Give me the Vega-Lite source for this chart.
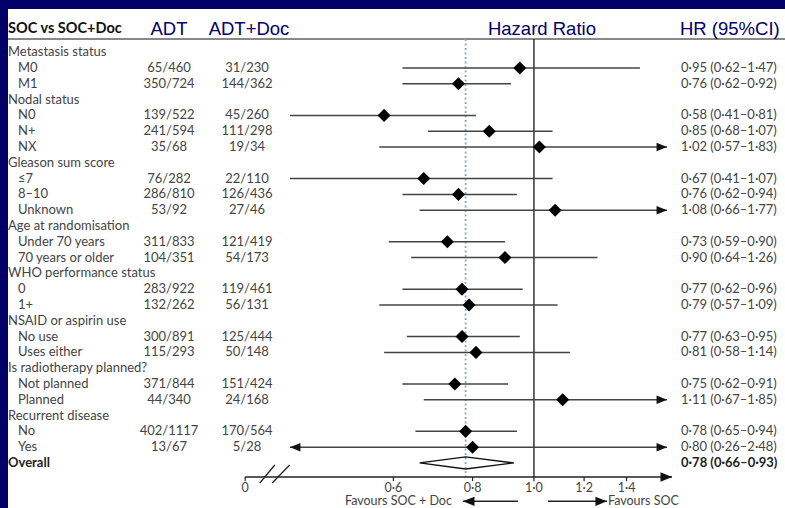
{
  "$schema": "https://vega.github.io/schema/vega-lite/v6.json",
  "background": "white",
  "padding": 0,
  "spacing": 0,
  "bounds": "flush",
  "config": {
    "view": {"stroke": null},
    "text": {"font": "Lato", "fontSize": 13, "color": "#444"}
  },
  "datasets": {
    "headers": [
      {"col": "sub", "text": "SOC vs SOC+Doc"},
      {"col": "adt", "text": "ADT"},
      {"col": "adtdoc", "text": "ADT+Doc"},
      {"col": "hr", "text": "Hazard Ratio"},
      {"col": "ci", "text": "HR (95%CI)"}
    ],
    "rows": [
      {"row": 0, "label": "Metastasis status", "kind": "group"},
      {"row": 1, "label": "M0", "kind": "item", "adt": "65/460", "adtdoc": "31/230", "hr": 0.95, "lo": 0.62, "hi": 1.47, "ci": "0·95 (0·62–1·47)"},
      {"row": 2, "label": "M1", "kind": "item", "adt": "350/724", "adtdoc": "144/362", "hr": 0.76, "lo": 0.62, "hi": 0.92, "ci": "0·76 (0·62–0·92)"},
      {"row": 3, "label": "Nodal status", "kind": "group"},
      {"row": 4, "label": "N0", "kind": "item", "adt": "139/522", "adtdoc": "45/260", "hr": 0.58, "lo": 0.41, "hi": 0.81, "ci": "0·58 (0·41–0·81)"},
      {"row": 5, "label": "N+", "kind": "item", "adt": "241/594", "adtdoc": "111/298", "hr": 0.85, "lo": 0.68, "hi": 1.07, "ci": "0·85 (0·68–1·07)"},
      {"row": 6, "label": "NX", "kind": "item", "adt": "35/68", "adtdoc": "19/34", "hr": 1.02, "lo": 0.57, "hi": 1.83, "ci": "1·02 (0·57–1·83)"},
      {"row": 7, "label": "Gleason sum score", "kind": "group"},
      {"row": 8, "label": "≤7", "kind": "item", "adt": "76/282", "adtdoc": "22/110", "hr": 0.67, "lo": 0.41, "hi": 1.07, "ci": "0·67 (0·41–1·07)"},
      {"row": 9, "label": "8–10", "kind": "item", "adt": "286/810", "adtdoc": "126/436", "hr": 0.76, "lo": 0.62, "hi": 0.94, "ci": "0·76 (0·62–0·94)"},
      {"row": 10, "label": "Unknown", "kind": "item", "adt": "53/92", "adtdoc": "27/46", "hr": 1.08, "lo": 0.66, "hi": 1.77, "ci": "1·08 (0·66–1·77)"},
      {"row": 11, "label": "Age at randomisation", "kind": "group"},
      {"row": 12, "label": "Under 70 years", "kind": "item", "adt": "311/833", "adtdoc": "121/419", "hr": 0.73, "lo": 0.59, "hi": 0.90, "ci": "0·73 (0·59–0·90)"},
      {"row": 13, "label": "70 years or older", "kind": "item", "adt": "104/351", "adtdoc": "54/173", "hr": 0.90, "lo": 0.64, "hi": 1.26, "ci": "0·90 (0·64–1·26)"},
      {"row": 14, "label": "WHO performance status", "kind": "group"},
      {"row": 15, "label": "0", "kind": "item", "adt": "283/922", "adtdoc": "119/461", "hr": 0.77, "lo": 0.62, "hi": 0.96, "ci": "0·77 (0·62–0·96)"},
      {"row": 16, "label": "1+", "kind": "item", "adt": "132/262", "adtdoc": "56/131", "hr": 0.79, "lo": 0.57, "hi": 1.09, "ci": "0·79 (0·57–1·09)"},
      {"row": 17, "label": "NSAID or aspirin use", "kind": "group"},
      {"row": 18, "label": "No use", "kind": "item", "adt": "300/891", "adtdoc": "125/444", "hr": 0.77, "lo": 0.63, "hi": 0.95, "ci": "0·77 (0·63–0·95)"},
      {"row": 19, "label": "Uses either", "kind": "item", "adt": "115/293", "adtdoc": "50/148", "hr": 0.81, "lo": 0.58, "hi": 1.14, "ci": "0·81 (0·58–1·14)"},
      {"row": 20, "label": "Is radiotherapy planned?", "kind": "group"},
      {"row": 21, "label": "Not planned", "kind": "item", "adt": "371/844", "adtdoc": "151/424", "hr": 0.75, "lo": 0.62, "hi": 0.91, "ci": "0·75 (0·62–0·91)"},
      {"row": 22, "label": "Planned", "kind": "item", "adt": "44/340", "adtdoc": "24/168", "hr": 1.11, "lo": 0.67, "hi": 1.85, "ci": "1·11 (0·67–1·85)"},
      {"row": 23, "label": "Recurrent disease", "kind": "group"},
      {"row": 24, "label": "No", "kind": "item", "adt": "402/1117", "adtdoc": "170/564", "hr": 0.78, "lo": 0.65, "hi": 0.94, "ci": "0·78 (0·65–0·94)"},
      {"row": 25, "label": "Yes", "kind": "item", "adt": "13/67", "adtdoc": "5/28", "hr": 0.80, "lo": 0.26, "hi": 2.48, "ci": "0·80 (0·26–2·48)"},
      {"row": 26, "label": "Overall", "kind": "overall", "hr": 0.78, "lo": 0.66, "hi": 0.93, "ci": "0·78 (0·66–0·93)"}
    ],
    "ticks": [
      {"v": 0.35, "t": "0"},
      {"v": 0.6, "t": "0·6"},
      {"v": 0.8, "t": "0·8"},
      {"v": 1.0, "t": "1·0"},
      {"v": 1.2, "t": "1·2"},
      {"v": 1.4, "t": "1·4"}
    ],
    "overall_diamond": [
      {"o": 0, "hr": 0.66, "row": 26},
      {"o": 1, "hr": 0.78, "row": 25.62},
      {"o": 2, "hr": 0.93, "row": 26},
      {"o": 3, "hr": 0.78, "row": 26.38},
      {"o": 4, "hr": 0.66, "row": 26}
    ],
    "favours": [
      {"side": "doc", "label": "Favours SOC + Doc", "from": 0.9435, "to": 0.7725},
      {"side": "soc", "label": "Favours SOC", "from": 1.052, "to": 1.304}
    ],
    "axisbreak": [
      {"x1": 0.3692, "x2": 0.3898, "y1": 27.27, "y2": 26.13},
      {"x1": 0.3861, "x2": 0.4115, "y1": 27.27, "y2": 26.13}
    ]
  },
  "vconcat": [
    {"width": 785, "height": 9, "view": {"fill": "#000066", "stroke": null},
     "data": {"values": [{}]}, "mark": {"type": "rect", "color": "#000066"}, "encoding": {}},
    {
      "spacing": 0,
      "bounds": "flush",
      "hconcat": [
        {"width": 8, "height": 499, "view": {"fill": "#000066", "stroke": null},
         "data": {"values": [{}]}, "mark": {"type": "rect", "color": "#000066"}, "encoding": {}},
        {
          "width": 122, "height": 499,
          "layer": [
            {"data": {"values": [{}]}, "mark": {"type": "rule", "color": "#888", "strokeWidth": 2},
             "encoding": {"y": {"datum": -0.84, "type": "quantitative", "scale": {"domain": [-2.734, 28.85], "reverse": true, "nice": false, "zero": false}, "axis": null}}},
            {"data": {"name": "headers"}, "transform": [{"filter": "datum.col == 'sub'"}],
             "mark": {"type": "text", "align": "left", "baseline": "middle", "fontWeight": "bold", "fontSize": 14.5, "color": "#111"},
             "encoding": {"x": {"value": 0}, "y": {"datum": -1.47, "type": "quantitative", "scale": {"domain": [-2.734, 28.85], "reverse": true, "nice": false, "zero": false}, "axis": null}, "text": {"field": "text"}}},
            {"data": {"name": "rows"}, "transform": [{"filter": "datum.kind == 'group'"}],
             "mark": {"type": "text", "align": "left", "baseline": "middle"},
             "encoding": {"x": {"value": 0}, "y": {"field": "row", "type": "quantitative", "scale": {"domain": [-2.734, 28.85], "reverse": true, "nice": false, "zero": false}, "axis": null}, "text": {"field": "label"}}},
            {"data": {"name": "rows"}, "transform": [{"filter": "datum.kind == 'item'"}],
             "mark": {"type": "text", "align": "left", "baseline": "middle", "dx": 10},
             "encoding": {"x": {"value": 0}, "y": {"field": "row", "type": "quantitative", "scale": {"domain": [-2.734, 28.85], "reverse": true, "nice": false, "zero": false}, "axis": null}, "text": {"field": "label"}}},
            {"data": {"name": "rows"}, "transform": [{"filter": "datum.kind == 'overall'"}],
             "mark": {"type": "text", "align": "left", "baseline": "middle", "fontWeight": "bold", "color": "#222"},
             "encoding": {"x": {"value": 0}, "y": {"field": "row", "type": "quantitative", "scale": {"domain": [-2.734, 28.85], "reverse": true, "nice": false, "zero": false}, "axis": null}, "text": {"field": "label"}}}
          ]
        },
        {
          "width": 78, "height": 499,
          "layer": [
            {"data": {"values": [{}]}, "mark": {"type": "rule", "color": "#888", "strokeWidth": 2},
             "encoding": {"y": {"datum": -0.84, "type": "quantitative", "scale": {"domain": [-2.734, 28.85], "reverse": true, "nice": false, "zero": false}, "axis": null}}},
            {"data": {"name": "headers"}, "transform": [{"filter": "datum.col == 'adt'"}],
             "mark": {"type": "text", "align": "center", "baseline": "middle", "font": "Liberation Sans", "fontSize": 18.5, "color": "#000066"},
             "encoding": {"y": {"datum": -1.47, "type": "quantitative", "scale": {"domain": [-2.734, 28.85], "reverse": true, "nice": false, "zero": false}, "axis": null}, "text": {"field": "text"}}},
            {"data": {"name": "rows"}, "transform": [{"filter": "datum.kind == 'item'"}],
             "mark": {"type": "text", "align": "center", "baseline": "middle"},
             "encoding": {"y": {"field": "row", "type": "quantitative", "scale": {"domain": [-2.734, 28.85], "reverse": true, "nice": false, "zero": false}, "axis": null}, "text": {"field": "adt"}}}
          ]
        },
        {
          "width": 82, "height": 499,
          "layer": [
            {"data": {"values": [{}]}, "mark": {"type": "rule", "color": "#888", "strokeWidth": 2},
             "encoding": {"y": {"datum": -0.84, "type": "quantitative", "scale": {"domain": [-2.734, 28.85], "reverse": true, "nice": false, "zero": false}, "axis": null}}},
            {"data": {"name": "headers"}, "transform": [{"filter": "datum.col == 'adtdoc'"}],
             "mark": {"type": "text", "align": "center", "baseline": "middle", "font": "Liberation Sans", "fontSize": 18.5, "color": "#000066"},
             "encoding": {"y": {"datum": -1.47, "type": "quantitative", "scale": {"domain": [-2.734, 28.85], "reverse": true, "nice": false, "zero": false}, "axis": null}, "text": {"field": "text"}}},
            {"data": {"name": "rows"}, "transform": [{"filter": "datum.kind == 'item'"}],
             "mark": {"type": "text", "align": "center", "baseline": "middle", "dx": -2},
             "encoding": {"y": {"field": "row", "type": "quantitative", "scale": {"domain": [-2.734, 28.85], "reverse": true, "nice": false, "zero": false}, "axis": null}, "text": {"field": "adtdoc"}}}
          ]
        },
        {
          "width": 377, "height": 499,
          "resolve": {"scale": {"x": "independent"}},
          "layer": [
            {
              "layer": [
                {"data": {"values": [{}]}, "mark": {"type": "rule", "color": "#888", "strokeWidth": 2},
                 "encoding": {"y": {"datum": -0.84, "type": "quantitative", "scale": {"domain": [-2.734, 28.85], "reverse": true, "nice": false, "zero": false}, "axis": null}}},
                {"data": {"values": [{}]}, "mark": {"type": "rule", "color": "#8fa8ba", "strokeWidth": 1.8, "strokeDash": [2, 2.5]},
                 "encoding": {"x": {"datum": 0.78, "type": "quantitative", "scale": {"type": "log", "domain": [0.412, 1.622], "nice": false}, "axis": null},
                              "y": {"datum": -0.84, "type": "quantitative", "scale": {"domain": [-2.734, 28.85], "reverse": true, "nice": false, "zero": false}, "axis": null},
                              "y2": {"datum": 26.89}}},
                {"data": {"values": [{}]}, "mark": {"type": "rule", "color": "#333", "strokeWidth": 1.5},
                 "encoding": {"x": {"datum": 1.0, "type": "quantitative", "scale": {"type": "log", "domain": [0.412, 1.622], "nice": false}, "axis": null},
                              "y": {"datum": -0.84, "type": "quantitative", "scale": {"domain": [-2.734, 28.85], "reverse": true, "nice": false, "zero": false}, "axis": null},
                              "y2": {"datum": 26.89}}},
                {"data": {"values": [{}]}, "mark": {"type": "rule", "color": "#222", "strokeWidth": 1.5},
                 "encoding": {"x": {"datum": 0.35, "type": "quantitative", "scale": {"type": "log", "domain": [0.412, 1.622], "nice": false}, "axis": null},
                              "x2": {"datum": 1.652},
                              "y": {"datum": 26.89, "type": "quantitative", "scale": {"domain": [-2.734, 28.85], "reverse": true, "nice": false, "zero": false}, "axis": null}}},
                {"data": {"values": [{}]}, "mark": {"type": "point", "shape": "M0,0L-2.2,-0.9L-2.2,0.9Z", "filled": true, "color": "#111", "opacity": 1, "size": 110},
                 "encoding": {"x": {"datum": 1.652, "type": "quantitative", "scale": {"type": "log", "domain": [0.412, 1.622], "nice": false}, "axis": null},
                              "y": {"datum": 26.89, "type": "quantitative", "scale": {"domain": [-2.734, 28.85], "reverse": true, "nice": false, "zero": false}, "axis": null}}},
                {"data": {"name": "ticks"}, "mark": {"type": "rule", "color": "#222", "strokeWidth": 1.2},
                 "encoding": {"x": {"field": "v", "type": "quantitative", "scale": {"type": "log", "domain": [0.412, 1.622], "nice": false}, "axis": null},
                              "y": {"datum": 26.89, "type": "quantitative", "scale": {"domain": [-2.734, 28.85], "reverse": true, "nice": false, "zero": false}, "axis": null},
                              "y2": {"datum": 27.15}}},
                {"data": {"name": "ticks"}, "mark": {"type": "text", "align": "center", "baseline": "middle", "fontSize": 12.5},
                 "encoding": {"x": {"field": "v", "type": "quantitative", "scale": {"type": "log", "domain": [0.412, 1.622], "nice": false}, "axis": null},
                              "y": {"datum": 27.56, "type": "quantitative", "scale": {"domain": [-2.734, 28.85], "reverse": true, "nice": false, "zero": false}, "axis": null},
                              "text": {"field": "t"}}},
                {"data": {"name": "axisbreak"}, "mark": {"type": "rule", "color": "#222", "strokeWidth": 1.3},
                 "encoding": {"x": {"field": "x1", "type": "quantitative", "scale": {"type": "log", "domain": [0.412, 1.622], "nice": false}, "axis": null},
                              "x2": {"field": "x2"},
                              "y": {"field": "y1", "type": "quantitative", "scale": {"domain": [-2.734, 28.85], "reverse": true, "nice": false, "zero": false}, "axis": null},
                              "y2": {"field": "y2"}}},
                {"data": {"name": "overall_diamond"}, "mark": {"type": "line", "color": "#111", "strokeWidth": 1.3},
                 "encoding": {"x": {"field": "hr", "type": "quantitative", "scale": {"type": "log", "domain": [0.412, 1.622], "nice": false}, "axis": null},
                              "y": {"field": "row", "type": "quantitative", "scale": {"domain": [-2.734, 28.85], "reverse": true, "nice": false, "zero": false}, "axis": null},
                              "order": {"field": "o"}}},
                {"data": {"name": "favours"}, "mark": {"type": "rule", "color": "#222", "strokeWidth": 1.5},
                 "encoding": {"x": {"field": "from", "type": "quantitative", "scale": {"type": "log", "domain": [0.412, 1.622], "nice": false}, "axis": null},
                              "x2": {"field": "to"},
                              "y": {"datum": 28.43, "type": "quantitative", "scale": {"domain": [-2.734, 28.85], "reverse": true, "nice": false, "zero": false}, "axis": null}}},
                {"data": {"name": "favours"}, "transform": [{"filter": "datum.side == 'doc'"}],
                 "mark": {"type": "point", "shape": "M0,0L2.2,-0.9L2.2,0.9Z", "filled": true, "color": "#111", "opacity": 1, "size": 110},
                 "encoding": {"x": {"field": "to", "type": "quantitative", "scale": {"type": "log", "domain": [0.412, 1.622], "nice": false}, "axis": null},
                              "y": {"datum": 28.43, "type": "quantitative", "scale": {"domain": [-2.734, 28.85], "reverse": true, "nice": false, "zero": false}, "axis": null}}},
                {"data": {"name": "favours"}, "transform": [{"filter": "datum.side == 'soc'"}],
                 "mark": {"type": "point", "shape": "M0,0L-2.2,-0.9L-2.2,0.9Z", "filled": true, "color": "#111", "opacity": 1, "size": 110},
                 "encoding": {"x": {"field": "to", "type": "quantitative", "scale": {"type": "log", "domain": [0.412, 1.622], "nice": false}, "axis": null},
                              "y": {"datum": 28.43, "type": "quantitative", "scale": {"domain": [-2.734, 28.85], "reverse": true, "nice": false, "zero": false}, "axis": null}}},
                {"data": {"name": "favours"}, "transform": [{"filter": "datum.side == 'doc'"}],
                 "mark": {"type": "text", "align": "right", "baseline": "middle", "dx": -11, "fontSize": 12.5},
                 "encoding": {"x": {"field": "to", "type": "quantitative", "scale": {"type": "log", "domain": [0.412, 1.622], "nice": false}, "axis": null},
                              "y": {"datum": 28.43, "type": "quantitative", "scale": {"domain": [-2.734, 28.85], "reverse": true, "nice": false, "zero": false}, "axis": null},
                              "text": {"field": "label"}}},
                {"data": {"name": "favours"}, "transform": [{"filter": "datum.side == 'soc'"}],
                 "mark": {"type": "text", "align": "left", "baseline": "middle", "dx": 1, "fontSize": 12.5},
                 "encoding": {"x": {"field": "to", "type": "quantitative", "scale": {"type": "log", "domain": [0.412, 1.622], "nice": false}, "axis": null},
                              "y": {"datum": 28.43, "type": "quantitative", "scale": {"domain": [-2.734, 28.85], "reverse": true, "nice": false, "zero": false}, "axis": null},
                              "text": {"field": "label"}}},
                {"data": {"name": "headers"}, "transform": [{"filter": "datum.col == 'hr'"}],
                 "mark": {"type": "text", "align": "center", "baseline": "middle", "font": "Liberation Sans", "fontSize": 18.5, "color": "#000066"},
                 "encoding": {"x": {"datum": 1.0295, "type": "quantitative", "scale": {"type": "log", "domain": [0.412, 1.622], "nice": false}, "axis": null},
                              "y": {"datum": -1.47, "type": "quantitative", "scale": {"domain": [-2.734, 28.85], "reverse": true, "nice": false, "zero": false}, "axis": null},
                              "text": {"field": "text"}}}
              ]
            },
            {
              "data": {"name": "rows"},
              "transform": [{"filter": "datum.kind == 'item'"}],
              "layer": [
                {"mark": {"type": "rule", "color": "#444", "strokeWidth": 1.5},
                 "encoding": {"x": {"field": "lo", "type": "quantitative", "scale": {"type": "log", "domain": [0.412, 1.622], "nice": false, "clamp": true}, "axis": null},
                              "x2": {"field": "hi"},
                              "y": {"field": "row", "type": "quantitative", "scale": {"domain": [-2.734, 28.85], "reverse": true, "nice": false, "zero": false}, "axis": null}}},
                {"transform": [{"filter": "datum.hi > 1.622"}],
                 "mark": {"type": "point", "shape": "M0,0L-2.2,-0.9L-2.2,0.9Z", "filled": true, "color": "#111", "opacity": 1, "size": 90},
                 "encoding": {"x": {"field": "hi", "type": "quantitative", "scale": {"type": "log", "domain": [0.412, 1.622], "nice": false, "clamp": true}, "axis": null},
                              "y": {"field": "row", "type": "quantitative", "scale": {"domain": [-2.734, 28.85], "reverse": true, "nice": false, "zero": false}, "axis": null}}},
                {"transform": [{"filter": "datum.lo < 0.4"}],
                 "mark": {"type": "point", "shape": "M0,0L2.2,-0.9L2.2,0.9Z", "filled": true, "color": "#111", "opacity": 1, "size": 90},
                 "encoding": {"x": {"field": "lo", "type": "quantitative", "scale": {"type": "log", "domain": [0.412, 1.622], "nice": false, "clamp": true}, "axis": null},
                              "y": {"field": "row", "type": "quantitative", "scale": {"domain": [-2.734, 28.85], "reverse": true, "nice": false, "zero": false}, "axis": null}}},
                {"mark": {"type": "point", "shape": "diamond", "filled": true, "color": "#000", "opacity": 1, "size": 170},
                 "encoding": {"x": {"field": "hr", "type": "quantitative", "scale": {"type": "log", "domain": [0.412, 1.622], "nice": false, "clamp": true}, "axis": null},
                              "y": {"field": "row", "type": "quantitative", "scale": {"domain": [-2.734, 28.85], "reverse": true, "nice": false, "zero": false}, "axis": null}}}
              ]
            }
          ]
        },
        {
          "width": 118, "height": 499,
          "layer": [
            {"data": {"values": [{}]}, "mark": {"type": "rule", "color": "#888", "strokeWidth": 2},
             "encoding": {"y": {"datum": -0.84, "type": "quantitative", "scale": {"domain": [-2.734, 28.85], "reverse": true, "nice": false, "zero": false}, "axis": null}}},
            {"data": {"name": "headers"}, "transform": [{"filter": "datum.col == 'ci'"}],
             "mark": {"type": "text", "align": "left", "baseline": "middle", "dx": 13, "font": "Liberation Sans", "fontSize": 18.5, "color": "#000066"},
             "encoding": {"x": {"value": 0}, "y": {"datum": -1.47, "type": "quantitative", "scale": {"domain": [-2.734, 28.85], "reverse": true, "nice": false, "zero": false}, "axis": null}, "text": {"field": "text"}}},
            {"data": {"name": "rows"}, "transform": [{"filter": "datum.kind == 'item'"}],
             "mark": {"type": "text", "align": "left", "baseline": "middle", "dx": 14},
             "encoding": {"x": {"value": 0}, "y": {"field": "row", "type": "quantitative", "scale": {"domain": [-2.734, 28.85], "reverse": true, "nice": false, "zero": false}, "axis": null}, "text": {"field": "ci"}}},
            {"data": {"name": "rows"}, "transform": [{"filter": "datum.kind == 'overall'"}],
             "mark": {"type": "text", "align": "left", "baseline": "middle", "dx": 14, "fontWeight": "bold", "color": "#222"},
             "encoding": {"x": {"value": 0}, "y": {"field": "row", "type": "quantitative", "scale": {"domain": [-2.734, 28.85], "reverse": true, "nice": false, "zero": false}, "axis": null}, "text": {"field": "ci"}}}
          ]
        }
      ]
    }
  ]
}
